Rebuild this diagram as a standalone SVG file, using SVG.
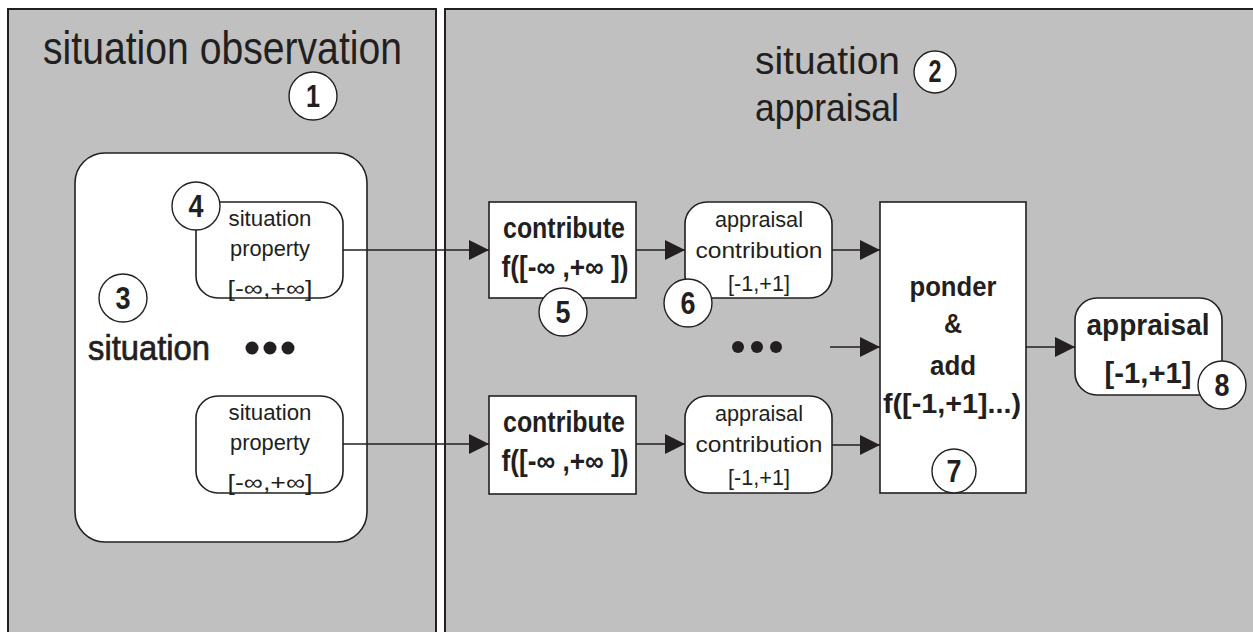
<svg xmlns="http://www.w3.org/2000/svg" width="1253" height="632" viewBox="0 0 1253 632">
  <defs>
    <marker id="arrow" viewBox="0 0 20 20" refX="20" refY="10" markerWidth="20" markerHeight="20" markerUnits="userSpaceOnUse" orient="auto">
      <path d="M0,0 L20,10 L0,20 Z" fill="#231f20"/>
    </marker>
    <style>
      .panel { fill: #c0c0c0; stroke: #231f20; stroke-width: 2; }
      .node { fill: #ffffff; stroke: #231f20; stroke-width: 1.6; }
      .badge { fill: #ffffff; stroke: #231f20; stroke-width: 1.4; }
      .num { font-family: "Liberation Sans", Arial, sans-serif; font-size: 31px; font-weight: bold; fill: #231f20; text-anchor: middle; }
      .title { font-family: "Liberation Sans", Arial, sans-serif; fill: #231f20; }
      .small { font-family: "Liberation Sans", Arial, sans-serif; font-size: 22px; fill: #231f20; text-anchor: middle; }
      .bold { font-family: "Liberation Sans", Arial, sans-serif; font-weight: bold; fill: #231f20; text-anchor: middle; }
      .link { fill: none; stroke: #231f20; stroke-width: 1.6; marker-end: url(#arrow); }
      .dot { fill: #231f20; }
    </style>
  </defs>

  <rect width="1253" height="632" fill="#ffffff"/>

  <!-- left panel: observation -->
  <g id="panel-observation">
    <rect class="panel" x="8" y="9" width="428" height="640"/>
    <text class="title" x="43" y="64" font-size="46" textLength="359" lengthAdjust="spacingAndGlyphs">situation observation</text>
    <circle class="badge" cx="313" cy="96" r="24"/>
    <text class="num" x="313" y="107" font-weight="normal" textLength="14" lengthAdjust="spacingAndGlyphs">1</text>
  </g>

  <!-- right panel: appraisal -->
  <g id="panel-appraisal">
    <rect class="panel" x="445" y="9" width="830" height="640"/>
    <text class="title" x="755" y="74" font-size="39" textLength="145" lengthAdjust="spacingAndGlyphs">situation</text>
    <text class="title" x="755" y="121" font-size="39" textLength="144" lengthAdjust="spacingAndGlyphs">appraisal</text>
    <circle class="badge" cx="935" cy="72" r="21"/>
    <text class="num" x="935" y="82" font-size="27" textLength="13" lengthAdjust="spacingAndGlyphs">2</text>
  </g>

  <!-- situation container -->
  <g id="situation">
    <rect class="node" x="75" y="153" width="292" height="389" rx="30"/>
    <circle class="badge" cx="123" cy="298" r="24"/>
    <text class="num" x="123" y="309" textLength="15" lengthAdjust="spacingAndGlyphs">3</text>
    <text class="title" x="149" y="360" font-size="35" text-anchor="middle" textLength="122" lengthAdjust="spacingAndGlyphs" stroke="#231f20" stroke-width="0.7">situation</text>
    <circle class="dot" cx="252" cy="348" r="6.5"/>
    <circle class="dot" cx="270" cy="348" r="6.5"/>
    <circle class="dot" cx="288" cy="348" r="6.5"/>
  </g>

  <!-- situation property (top) -->
  <g id="property-1">
    <rect class="node" x="196" y="202" width="147" height="96" rx="22"/>
    <text class="small" x="270" y="226" textLength="83" lengthAdjust="spacingAndGlyphs">situation</text>
    <text class="small" x="270" y="256" textLength="80" lengthAdjust="spacingAndGlyphs">property</text>
    <text class="small" x="270" y="296" font-size="24" textLength="85" lengthAdjust="spacingAndGlyphs">[-∞,+∞]</text>
    <circle class="badge" cx="196" cy="206" r="24"/>
    <text class="num" x="196" y="217" textLength="15" lengthAdjust="spacingAndGlyphs">4</text>
  </g>

  <!-- situation property (bottom) -->
  <g id="property-2">
    <rect class="node" x="196" y="396" width="147" height="97" rx="22"/>
    <text class="small" x="270" y="420" textLength="83" lengthAdjust="spacingAndGlyphs">situation</text>
    <text class="small" x="270" y="450" textLength="80" lengthAdjust="spacingAndGlyphs">property</text>
    <text class="small" x="270" y="490" font-size="24" textLength="85" lengthAdjust="spacingAndGlyphs">[-∞,+∞]</text>
  </g>

  <!-- contribute functions -->
  <g id="contribute-1">
    <rect class="node" x="489" y="202" width="147" height="96"/>
    <text class="bold" x="564" y="238" font-size="29" textLength="122" lengthAdjust="spacingAndGlyphs">contribute</text>
    <text class="bold" x="565" y="277" font-size="29" textLength="127" lengthAdjust="spacingAndGlyphs">f([-∞ ,+∞ ])</text>
    <circle class="badge" cx="563" cy="312" r="24"/>
    <text class="num" x="563" y="323" textLength="15" lengthAdjust="spacingAndGlyphs">5</text>
  </g>

  <g id="contribute-2">
    <rect class="node" x="489" y="396" width="147" height="98"/>
    <text class="bold" x="564" y="432" font-size="29" textLength="122" lengthAdjust="spacingAndGlyphs">contribute</text>
    <text class="bold" x="565" y="471" font-size="29" textLength="127" lengthAdjust="spacingAndGlyphs">f([-∞ ,+∞ ])</text>
  </g>

  <!-- appraisal contributions -->
  <g id="contribution-1">
    <rect class="node" x="685" y="202" width="147" height="96" rx="22"/>
    <text class="small" x="759" y="227" textLength="88" lengthAdjust="spacingAndGlyphs">appraisal</text>
    <text class="small" x="759" y="258" textLength="127" lengthAdjust="spacingAndGlyphs">contribution</text>
    <text class="small" x="759" y="291" textLength="62" lengthAdjust="spacingAndGlyphs">[-1,+1]</text>
    <circle class="badge" cx="688" cy="303" r="24"/>
    <text class="num" x="688" y="314" textLength="15" lengthAdjust="spacingAndGlyphs">6</text>
  </g>

  <g id="contribution-2">
    <rect class="node" x="685" y="396" width="147" height="97" rx="22"/>
    <text class="small" x="759" y="421" textLength="88" lengthAdjust="spacingAndGlyphs">appraisal</text>
    <text class="small" x="759" y="452" textLength="127" lengthAdjust="spacingAndGlyphs">contribution</text>
    <text class="small" x="759" y="485" textLength="62" lengthAdjust="spacingAndGlyphs">[-1,+1]</text>
  </g>

  <g id="more-contributions">
    <circle class="dot" cx="738" cy="347" r="6"/>
    <circle class="dot" cx="757" cy="347" r="6"/>
    <circle class="dot" cx="776" cy="347" r="6"/>
  </g>

  <!-- ponder & add -->
  <g id="ponder-add">
    <rect class="node" x="880" y="202" width="146" height="291"/>
    <text class="bold" x="953" y="296" font-size="27" textLength="87" lengthAdjust="spacingAndGlyphs">ponder</text>
    <text class="bold" x="953" y="333" font-size="27" textLength="18" lengthAdjust="spacingAndGlyphs">&amp;</text>
    <text class="bold" x="953" y="375" font-size="27" textLength="46" lengthAdjust="spacingAndGlyphs">add</text>
    <text class="bold" x="952" y="413" font-size="27" textLength="138" lengthAdjust="spacingAndGlyphs">f([-1,+1]...)</text>
    <circle class="badge" cx="954" cy="471" r="22"/>
    <text class="num" x="954" y="482" textLength="15" lengthAdjust="spacingAndGlyphs">7</text>
  </g>

  <!-- resulting appraisal -->
  <g id="appraisal">
    <rect class="node" x="1075" y="298" width="147" height="97" rx="22"/>
    <text class="bold" x="1148" y="335" font-size="29" textLength="123" lengthAdjust="spacingAndGlyphs">appraisal</text>
    <text class="bold" x="1148" y="383" font-size="29" textLength="87" lengthAdjust="spacingAndGlyphs">[-1,+1]</text>
    <circle class="badge" cx="1222" cy="385" r="24"/>
    <text class="num" x="1222" y="396" textLength="15" lengthAdjust="spacingAndGlyphs">8</text>
  </g>

  <!-- connectors -->
  <g id="connectors">
    <line class="link" x1="343" y1="250" x2="489" y2="250"/>
    <line class="link" x1="636" y1="250" x2="685" y2="250"/>
    <line class="link" x1="832" y1="250" x2="880" y2="250"/>
    <line class="link" x1="830" y1="347" x2="880" y2="347"/>
    <line class="link" x1="343" y1="444" x2="489" y2="444"/>
    <line class="link" x1="636" y1="444" x2="685" y2="444"/>
    <line class="link" x1="832" y1="445" x2="880" y2="445"/>
    <line class="link" x1="1026" y1="347" x2="1075" y2="347"/>
  </g>
</svg>
